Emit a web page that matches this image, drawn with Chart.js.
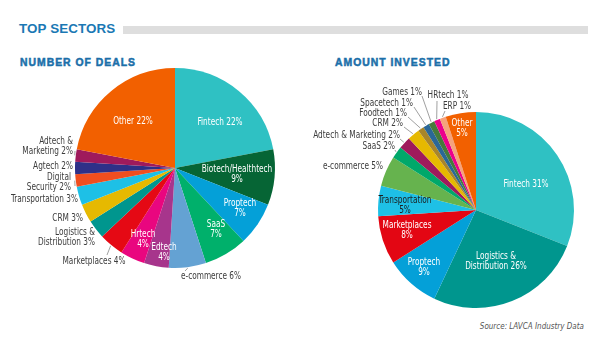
<!DOCTYPE html>
<html lang="en">
<head>
    <meta charset="UTF-8">
    <title>Top Sectors</title>
    <style>
        body {
            margin: 0;
            width: 600px;
            height: 341px;
            background: #ffffff;
            position: relative;
            overflow: hidden;
            font-family: "Liberation Sans Narrow", "DejaVu Sans Condensed", "Liberation Sans", sans-serif;
        }
        .title {
            position: absolute;
            left: 19px;
            top: 21px;
            font: bold 13.4px "Liberation Sans", Arial, sans-serif;
            color: #1a78b4;
            letter-spacing: 0.1px;
        }
        .title-bar {
            position: absolute;
            left: 123px;
            top: 26px;
            width: 465px;
            height: 8px;
            background: #dedede;
        }
        .sub {
            position: absolute;
            top: 57px;
            font: 900 10.4px "Liberation Sans", Arial, sans-serif;
            color: #1b6fa9;
            letter-spacing: 1px;
            -webkit-text-stroke: 0.5px #1b6fa9;
        }
        .source {
            position: absolute;
            right: 16px;
            top: 320px;
            font: italic 9.5px "DejaVu Sans Condensed", sans-serif;
            color: #555555;
            transform: scaleX(0.84);
            transform-origin: right center;
        }
        canvas {
            position: absolute;
            left: 0;
            top: 0;
        }
    </style>
</head>
<body>
    <div class="title">TOP SECTORS</div>
    <div class="title-bar"></div>
    <div class="sub" style="left:20px">NUMBER OF DEALS</div>
    <div class="sub" style="left:335px">AMOUNT INVESTED</div>
    <div class="source">Source: LAVCA Industry Data</div>

    <canvas id="deals" width="600" height="341"></canvas>
    <canvas id="invested" width="600" height="341"></canvas>

    <script src="https://cdn.jsdelivr.net/npm/chart.js"></script>
    <script>
        // Number of deals (%), clockwise from top
        const dealSectors = ["Fintech", "Biotech/Healthtech", "Proptech", "SaaS", "e-commerce", "Edtech", "Hrtech",
            "Marketplaces", "Logistics & Distribution", "CRM", "Transportation", "Digital Security", "Agtech",
            "Adtech & Marketing", "Other"];
        const dealShares = [22, 9, 7, 7, 6, 4, 4, 4, 3, 3, 3, 2, 2, 2, 22];
        const dealColors = ["#2fc1c3", "#066535", "#04a0d8", "#00b06b", "#64a2d3", "#a7358c", "#e9067f",
            "#e50914", "#00968e", "#e6b901", "#1ec0e6", "#f04e1f", "#2e3088", "#9f1a5c", "#f26000"];

        // Amount invested (%), clockwise from top
        const investSectors = ["Fintech", "Logistics & Distribution", "Proptech", "Marketplaces", "Transportation",
            "e-commerce", "SaaS", "Adtech & Marketing", "CRM", "Foodtech", "Spacetech", "Games", "HRtech", "ERP", "Other"];
        const investShares = [31, 26, 9, 8, 5, 5, 2, 2, 2, 1, 1, 1, 1, 1, 5];
        const investColors = ["#2fc1c3", "#00968e", "#04a0d8", "#e30613", "#1ec0e6", "#66b34e", "#00a86a",
            "#9f1a5c", "#e6b901", "#a8862a", "#2a6797", "#467a3c", "#ec008c", "#f5a27c", "#f26000"];

        // label placement relative to pie centre: x, y of first line, align, words on first line, leader end
        const W = '#ffffff', D = '#3c3c3c';
        const dealLabelLayout = [
            { x: 45, y: -46, c: W },
            { x: 62, y: 1, c: W, br: 1 },
            { x: 65, y: 35, c: W, br: 1 },
            { x: 41, y: 56, c: W, br: 1 },
            { x: 36, y: 108, c: D, lead: [10, 103] },
            { x: -11, y: 79, c: W, br: 1 },
            { x: -32, y: 66, c: W, br: 1 },
            { x: -81, y: 93, c: D, lead: [-68, 87] },
            { x: -80, y: 64, c: D, align: 'right', br: 2 },
            { x: -92, y: 50, c: D, align: 'right' },
            { x: -97, y: 31, c: D, align: 'right' },
            { x: -104, y: 9, c: D, align: 'right', br: 1, lead: [-100, 18] },
            { x: -102, y: -2, c: D, align: 'right' },
            { x: -102, y: -27, c: D, align: 'right', br: 2, lead: [-100, -17] },
            { x: -42, y: -47, c: W }
        ];
        const investLabelLayout = [
            { x: 50, y: -26, c: W },
            { x: 20, y: 46, c: W, br: 2 },
            { x: -52, y: 52, c: W, br: 1 },
            { x: -69, y: 15, c: W, br: 1 },
            { x: -71, y: -10, c: '#1c1c1c', br: 1 },
            { x: -93, y: -44, c: D, align: 'right' },
            { x: -81, y: -64, c: D, align: 'right', lead: [-81, -60] },
            { x: -76, y: -75, c: D, align: 'right', lead: [-76, -71] },
            { x: -73, y: -87, c: D, align: 'right', lead: [-72, -83] },
            { x: -69, y: -97, c: D, align: 'right', lead: [-68, -93] },
            { x: -63, y: -107, c: D, align: 'right', lead: [-62, -103] },
            { x: -54, y: -118, c: D, align: 'right', lead: [-54, -114] },
            { x: -28, y: -115, c: D, lead: [-39, -109] },
            { x: -19, y: -104, c: D, lead: [-31, -99] },
            { x: -14, y: -87, c: W, br: 1 }
        ];

        const sliceLabels = {
            id: 'sliceLabels',
            afterDatasetsDraw(chart, args, opts) {
                const ctx = chart.ctx;
                const arcs = chart.getDatasetMeta(0).data;
                const names = chart.data.labels;
                const vals = chart.data.datasets[0].data;
                ctx.save();
                ctx.font = '10.5px "DejaVu Sans Condensed", sans-serif';
                ctx.textBaseline = 'middle';
                arcs.forEach((arc, i) => {
                    const L = opts.layout[i];
                    const cx = arc.x, cy = arc.y;
                    if (L.lead) {
                        const mid = (arc.startAngle + arc.endAngle) / 2;
                        const r = arc.outerRadius + 1;
                        ctx.strokeStyle = '#777777';
                        ctx.lineWidth = 0.7;
                        ctx.beginPath();
                        ctx.moveTo(cx + Math.cos(mid) * r, cy + Math.sin(mid) * r);
                        ctx.lineTo(cx + L.lead[0], cy + L.lead[1]);
                        ctx.stroke();
                    }
                    const words = (names[i] + ' ' + vals[i] + '%').split(' ');
                    const lines = L.br ? [words.slice(0, L.br).join(' '), words.slice(L.br).join(' ')] : [words.join(' ')];
                    ctx.fillStyle = L.c;
                    ctx.textAlign = L.align || 'center';
                    lines.forEach((t, k) => {
                        // squeeze the glyphs to get a condensed look
                        ctx.save();
                        ctx.translate(cx + L.x, cy + L.y + k * 10);
                        ctx.scale(0.78, 1);
                        ctx.fillText(t, 0, 0);
                        ctx.restore();
                    });
                });
                ctx.restore();
            }
        };

        function pie(id, labels, values, colors, padding, layout) {
            return new Chart(document.getElementById(id), {
                type: 'pie',
                data: {
                    labels: labels,
                    datasets: [{
                        data: values,
                        backgroundColor: colors,
                        borderWidth: 0
                    }]
                },
                options: {
                    responsive: false,
                    animation: false,
                    layout: { padding: padding },
                    plugins: {
                        legend: { display: false },
                        tooltip: { enabled: false },
                        sliceLabels: { layout: layout }
                    }
                },
                plugins: [sliceLabels]
            });
        }

        pie('deals', dealSectors, dealShares, dealColors,
            { left: 75, top: 68, right: 325, bottom: 73 }, dealLabelLayout);
        pie('invested', investSectors, investShares, investColors,
            { left: 378, top: 112, right: 26, bottom: 33 }, investLabelLayout);
    </script>
</body>
</html>
